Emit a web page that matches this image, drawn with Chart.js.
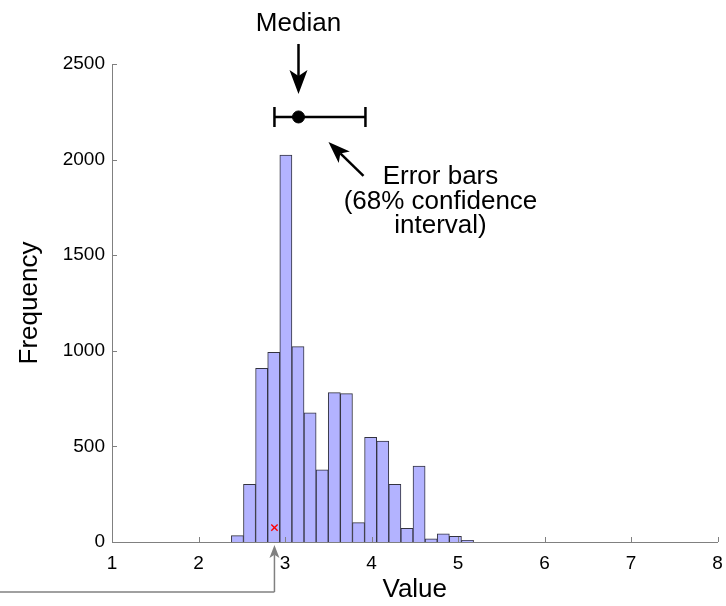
<!DOCTYPE html>
<html>
<head>
<meta charset="utf-8">
<script src="https://cdn.jsdelivr.net/npm/chart.js@4/dist/chart.umd.min.js"></script>
<style>
  html, body { margin: 0; padding: 0; background: #fff; }
</style>
</head>
<body>
<canvas id="hist_chart" width="726" height="606"></canvas>
<script>
// histogram bins (centres) and counts
const binCenters = [2.45, 2.59, 2.73, 2.87, 3.01, 3.15, 3.29, 3.43, 3.57, 3.71,
                    3.85, 3.99, 4.13, 4.27, 4.41, 4.55, 4.69, 4.83, 4.97, 5.11];
const binCounts = [33, 302, 908, 992, 2024, 1022, 676, 378, 781, 776,
                   101, 548, 528, 302, 71, 397, 17, 43, 30, 9];
const xTicks = [1, 2, 3, 4, 5, 6, 7, 8];
const yTicks = [0, 500, 1000, 1500, 2000, 2500];

// median with 68% interval, and the marked value
const medianValue = 3.156;
const ciLow = 2.878;
const ciHigh = 3.93;
const errorBarLevel = 2223;
const markerCount = 75;

const FONT = '"Liberation Sans", Arial, Helvetica, sans-serif';
const AXIS_GRAY = '#808080';

function arrow(ctx, x1, y1, x2, y2, color, width, headLen, headHalf) {
    const ang = Math.atan2(y2 - y1, x2 - x1);
    const cos = Math.cos(ang), sin = Math.sin(ang);
    const bx = x2 - cos * headLen * 0.75, by = y2 - sin * headLen * 0.75;
    ctx.save();
    ctx.strokeStyle = color;
    ctx.fillStyle = color;
    ctx.lineWidth = width;
    ctx.beginPath();
    ctx.moveTo(x1, y1);
    ctx.lineTo(bx, by);
    ctx.stroke();
    const wx = x2 - cos * headLen, wy = y2 - sin * headLen;
    ctx.beginPath();
    ctx.moveTo(x2, y2);
    ctx.lineTo(wx - sin * headHalf, wy + cos * headHalf);
    ctx.lineTo(bx, by);
    ctx.lineTo(wx + sin * headHalf, wy - cos * headHalf);
    ctx.closePath();
    ctx.fill();
    ctx.restore();
}

const annotations = {
    id: 'annotations',
    afterDraw(chart) {
        const ctx = chart.ctx;
        const xs = chart.scales.x, ys = chart.scales.y;
        const area = chart.chartArea;

        // inward tick marks
        ctx.save();
        ctx.strokeStyle = AXIS_GRAY;
        ctx.lineWidth = 1;
        ctx.beginPath();
        xTicks.forEach(v => {
            const px = Math.round(xs.getPixelForValue(v)) + 0.5;
            ctx.moveTo(px, area.bottom);
            ctx.lineTo(px, area.bottom - 5);
        });
        yTicks.forEach(v => {
            const py = Math.round(ys.getPixelForValue(v)) + 0.5;
            ctx.moveTo(area.left, py);
            ctx.lineTo(area.left + 5, py);
        });
        ctx.stroke();
        ctx.restore();

        const mx = xs.getPixelForValue(medianValue);
        const eby = ys.getPixelForValue(errorBarLevel);

        ctx.save();
        ctx.fillStyle = '#000';
        ctx.font = '26px ' + FONT;
        ctx.textAlign = 'center';
        ctx.textBaseline = 'alphabetic';
        ctx.fillText('Median', mx, eby - 86);
        ctx.fillText('Error bars', mx + 142, eby + 67);
        ctx.fillText('(68% confidence', mx + 142, eby + 92);
        ctx.fillText('interval)', mx + 142, eby + 116);
        ctx.restore();

        arrow(ctx, mx, eby - 73, mx, eby - 23, '#000', 2.5, 24, 9);
        arrow(ctx, mx + 65, eby + 59, mx + 30, eby + 25, '#000', 2.5, 22, 8);

        // gray pointer to the marked value
        const lx = xs.getPixelForValue(ciLow);
        const gy = area.bottom + 50;
        ctx.save();
        ctx.strokeStyle = AXIS_GRAY;
        ctx.lineWidth = 1.5;
        ctx.beginPath();
        ctx.moveTo(0, gy);
        ctx.lineTo(lx, gy);
        ctx.stroke();
        ctx.restore();
        arrow(ctx, lx, gy, lx, area.bottom + 3, AXIS_GRAY, 1.5, 13, 5);
    }
};

const ctxHist = document.getElementById('hist_chart').getContext('2d');
new Chart(ctxHist, {
    type: 'bar',
    data: {
        datasets: [
            {
                type: 'line',
                label: 'Error bar',
                data: [{x: ciLow, y: errorBarLevel}, {x: ciHigh, y: errorBarLevel}],
                borderColor: '#000',
                borderWidth: 2.5,
                pointStyle: 'line',
                rotation: 90,
                pointRadius: 10,
                pointBorderWidth: 2.5,
                pointBorderColor: '#000',
                order: 1
            },
            {
                type: 'scatter',
                label: 'Median',
                data: [{x: medianValue, y: errorBarLevel}],
                pointRadius: 6,
                pointBackgroundColor: '#000',
                pointBorderColor: '#000',
                order: 0
            },
            {
                type: 'scatter',
                label: 'Marker',
                data: [{x: ciLow, y: markerCount}],
                pointStyle: 'crossRot',
                pointRadius: 4.5,
                pointBorderColor: '#ff0000',
                pointBorderWidth: 1.4,
                order: 0
            },
            {
                type: 'bar',
                label: 'Frequency',
                data: binCenters.map((c, i) => ({x: c, y: binCounts[i]})),
                backgroundColor: '#b3b3ff',
                borderColor: '#333340',
                borderWidth: 1,
                barPercentage: 1,
                categoryPercentage: 1,
                order: 3
            }
        ]
    },
    options: {
        responsive: false,
        animation: false,
        devicePixelRatio: 1,
        layout: { autoPadding: false, padding: { left: 0, right: 8.5, top: 64, bottom: 0 } },
        plugins: {
            legend: { display: false },
            tooltip: { enabled: false },
            title: { display: false }
        },
        scales: {
            x: {
                type: 'linear',
                min: 1,
                max: 8,
                offset: false,
                afterBuildTicks: s => { s.ticks = xTicks.map(v => ({value: v})); },
                afterFit: s => { s.height = 64; s.paddingLeft = 0; s.paddingRight = 0; },
                grid: { display: false, drawTicks: false },
                border: { display: true, color: AXIS_GRAY, width: 1 },
                ticks: { color: '#000', padding: 10, font: { family: FONT, size: 19 }, callback: v => String(v) },
                title: {
                    display: true,
                    text: 'Value',
                    color: '#000',
                    font: { family: FONT, size: 26 },
                    padding: { top: 0, bottom: 1 }
                }
            },
            y: {
                min: 0,
                max: 2500,
                afterBuildTicks: s => { s.ticks = yTicks.map(v => ({value: v})); },
                afterFit: s => { s.width = 112; s.paddingTop = 0; s.paddingBottom = 0; },
                grid: { display: false, drawTicks: false },
                border: { display: true, color: AXIS_GRAY, width: 1 },
                ticks: { color: '#000', padding: 7, font: { family: FONT, size: 19 }, callback: v => String(v) },
                title: {
                    display: true,
                    text: 'Frequency',
                    color: '#000',
                    font: { family: FONT, size: 26 },
                    padding: { top: 14, bottom: 0 }
                }
            }
        }
    },
    plugins: [annotations]
});
</script>
</body>
</html>
